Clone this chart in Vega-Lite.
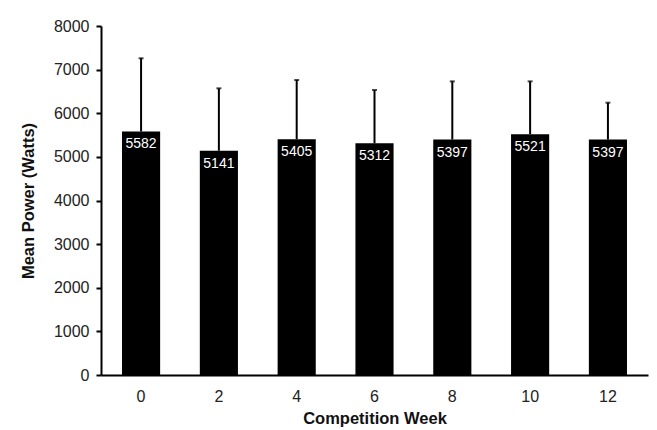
{
  "$schema": "https://vega.github.io/schema/vega-lite/v6.json",
  "autosize": "none",
  "width": 547,
  "height": 349,
  "padding": {"left": 101, "top": 26, "right": 9, "bottom": 55},
  "background": "white",
  "data": {
    "values": [
      {"week": "0", "power": 5582, "upper": 7260},
      {"week": "2", "power": 5141, "upper": 6571},
      {"week": "4", "power": 5405, "upper": 6762},
      {"week": "6", "power": 5312, "upper": 6533},
      {"week": "8", "power": 5397, "upper": 6731},
      {"week": "10", "power": 5521, "upper": 6731},
      {"week": "12", "power": 5397, "upper": 6242}
    ]
  },
  "encoding": {
    "x": {
      "field": "week",
      "type": "nominal",
      "sort": null,
      "title": "Competition Week",
      "scale": {"paddingInner": 0.51, "paddingOuter": 0.27},
      "axis": {
        "labelAngle": 0,
        "ticks": false,
        "labelPadding": 13,
        "titlePadding": 6
      }
    }
  },
  "layer": [
    {
      "mark": {"type": "rule", "color": "black", "strokeWidth": 2},
      "encoding": {
        "y": {"field": "power", "type": "quantitative"},
        "y2": {"field": "upper"}
      }
    },
    {
      "mark": {"type": "tick", "color": "black", "size": 5, "thickness": 2},
      "encoding": {
        "y": {"field": "upper", "type": "quantitative"}
      }
    },
    {
      "mark": {"type": "bar", "color": "black"},
      "encoding": {
        "y": {
          "field": "power",
          "type": "quantitative",
          "title": "Mean Power (Watts)",
          "scale": {"domain": [0, 8000], "nice": false},
          "axis": {
            "values": [0, 1000, 2000, 3000, 4000, 5000, 6000, 7000, 8000],
            "format": "d",
            "grid": false,
            "tickSize": 5,
            "labelPadding": 7,
            "titlePadding": 17
          }
        }
      }
    },
    {
      "mark": {"type": "text", "color": "white", "baseline": "top", "dy": 6, "fontSize": 14, "font": "Liberation Sans"},
      "encoding": {
        "y": {"field": "power", "type": "quantitative"},
        "text": {"field": "power", "type": "quantitative", "format": "d"}
      }
    }
  ],
  "config": {
    "view": {"stroke": null},
    "font": "Liberation Sans",
    "axis": {
      "domainColor": "black",
      "domainWidth": 2,
      "tickColor": "black",
      "tickWidth": 2,
      "labelFont": "Liberation Sans",
      "labelFontSize": 16,
      "labelColor": "#222",
      "titleFont": "Liberation Sans",
      "titleFontSize": 16.5,
      "titleFontWeight": "bold",
      "titleColor": "#111"
    }
  }
}
